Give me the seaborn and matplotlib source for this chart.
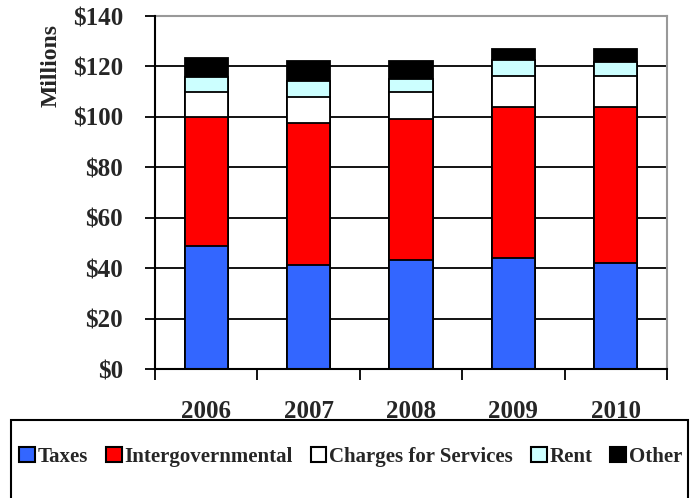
import numpy as np
import pandas as pd
import matplotlib
matplotlib.use("Agg")
import matplotlib.pyplot as plt
import seaborn as sns
from matplotlib.patches import Rectangle, Patch

# values ($ millions)
years = ["2006", "2007", "2008", "2009", "2010"]
taxes = [48.8, 41.3, 43.3, 44.0, 42.2]
intergov = [51.3, 56.2, 55.9, 60.1, 61.6]
charges = [9.7, 10.3, 10.6, 12.2, 12.5]
rent = [6.2, 6.4, 5.3, 6.3, 5.4]
other = [7.3, 8.1, 7.2, 4.4, 5.3]

names = ["Taxes", "Intergovernmental", "Charges for Services", "Rent", "Other"]
colors = ["#3366FF", "#FF0000", "#FFFFFF", "#CCFFFF", "#000000"]

sns.set_style("white")
plt.rcParams['font.family'] = ['Liberation Serif', 'DejaVu Serif']
plt.rcParams['font.weight'] = 'bold'

df = pd.DataFrame({"Year": years, "Taxes": taxes, "Intergovernmental": intergov,
                   "Charges for Services": charges, "Rent": rent, "Other": other})
cum = df[names].cumsum(axis=1)

fig = plt.figure(figsize=(6.96, 4.98), dpi=100)
ax = fig.add_axes([155/696, 1-369/498, 512/696, 353/498])

# gridlines
for v in range(20, 140, 20):
    ax.axhline(v, color="black", lw=1.3, zorder=0)

# stacked bars: draw cumulative totals from top down
for name, col in reversed(list(zip(names, colors))):
    sns.barplot(x=df["Year"], y=cum[name], color=col, saturation=1, width=0.42,
                edgecolor="black", linewidth=1.3, ax=ax, zorder=2)

ax.set_ylim(0, 140)
ax.set_xlim(-0.5, 4.5)
ax.set_xlabel("")
ax.set_ylabel("Millions", fontsize=17, fontweight="bold")
ax.yaxis.set_label_coords(-0.182, 0.86)

ax.set_yticks(range(0, 141, 20))
ax.set_yticklabels([f"${v}" for v in range(0, 141, 20)], fontsize=18, fontweight="bold")
ax.tick_params(axis="y", direction="out", length=7, width=1.3, color="black", pad=16, left=True)

ax.set_xticks(np.arange(-0.5, 5, 1))
ax.set_xticklabels([])
ax.set_xticks(range(5), minor=True)
ax.set_xticklabels(years, minor=True, fontsize=18, fontweight="bold")
ax.tick_params(axis="x", which="major", direction="out", length=8, width=1.3, color="black", bottom=True)
ax.tick_params(axis="x", which="minor", length=0, pad=22)

for s in ["left", "bottom"]:
    ax.spines[s].set_color("black")
    ax.spines[s].set_linewidth(1.5)
for s in ["top", "right"]:
    ax.spines[s].set_color("#999999")
    ax.spines[s].set_linewidth(1.5)
ax.spines["left"].set_zorder(3)
ax.spines["bottom"].set_zorder(3)

# legend box
fig.patches.append(Rectangle((11/696, -0.05), 677/696, 1-420/498+0.05,
                             transform=fig.transFigure, fill=False,
                             edgecolor="black", lw=1.5))
handles = [Patch(facecolor=c, edgecolor="black", lw=1.5) for c in colors]
fig.legend(handles, names, loc="center", bbox_to_anchor=(0.504, 1-457/498),
           ncol=5, frameon=False, handlelength=0.75, handleheight=0.75,
           handletextpad=0.15, columnspacing=0.85, prop={"weight": "bold", "size": 15})

fig.savefig("out.png", dpi=100)
